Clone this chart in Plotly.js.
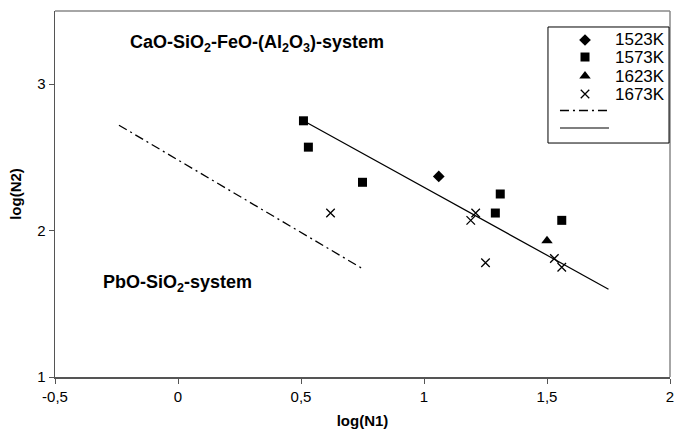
<!DOCTYPE html>
<html>
<head>
<meta charset="utf-8">
<script src="https://cdn.plot.ly/plotly-3.0.1.min.js"></script>
<style>html,body{margin:0;padding:0;background:#fff;}#chart{width:675px;height:435px;}</style>
</head>
<body>
<div id="chart"></div>
<script>
// Data
const x1523 = [1.06];
const y1523 = [2.37];
const x1573 = [0.51, 0.53, 0.75, 1.29, 1.31, 1.56];
const y1573 = [2.75, 2.57, 2.33, 2.12, 2.25, 2.07];
const x1623 = [1.50];
const y1623 = [1.93];
const x1673 = [0.62, 1.19, 1.21, 1.25, 1.53, 1.56];
const y1673 = [2.12, 2.07, 2.12, 1.78, 1.81, 1.75];
const xPbO = [-0.24, 0.75];
const yPbO = [2.72, 1.74];
const xFit = [0.51, 1.75];
const yFit = [2.75, 1.60];
const seriesNames = ['1523K', '1573K', '1623K', '1673K', '', ''];
const xTicks = [-0.5, 0, 0.5, 1, 1.5, 2];
const xTickText = ['-0,5', '0', '0,5', '1', '1,5', '2'];
const yTicks = [1, 2, 3];
const yTickText = ['1', '2', '3'];

const font = 'Liberation Sans, Arial, sans-serif';
const styles = [
  {mode: 'markers', marker: {symbol: 'diamond', size: 9, color: '#000'}},
  {mode: 'markers', marker: {symbol: 'square', size: 9, color: '#000'}},
  {mode: 'markers', marker: {symbol: 'triangle-up', size: 10, color: '#000'}},
  {mode: 'markers', marker: {symbol: 'x-thin-open', size: 8.5, color: '#000', line: {width: 1.3, color: '#000'}}},
  {mode: 'lines', line: {color: '#000', width: 1.3, dash: '9px,4px,2px,4px'}},
  {mode: 'lines', line: {color: '#000', width: 1.2}}
];
const dataX = [x1523, x1573, x1623, x1673, xPbO, xFit];
const dataY = [y1523, y1573, y1623, y1673, yPbO, yFit];

const traces = [];
dataX.forEach((xs, i) => {
  traces.push(Object.assign({type: 'scatter', x: xs, y: dataY[i], name: seriesNames[i],
    showlegend: false, cliponaxis: false}, styles[i]));
});

// Manual legend (drawn on an overlay axis spanning the plot area 0..1)
const legRows = [0.9208, 0.8743, 0.8224, 0.7732, 0.7281, 0.6803];
const legSymX = 0.8618, legTextX = 0.9073, legLineX = [0.8211, 0.9008];
const annotations = [
  {x: -0.203, y: 3.279, xref: 'x', yref: 'y', xanchor: 'left', yanchor: 'middle', showarrow: false,
   text: '<b>CaO-SiO<sub>2</sub>-FeO-(Al<sub>2</sub>O<sub>3</sub>)-system</b>', font: {family: font, size: 18}},
  {x: -0.313, y: 1.639, xref: 'x', yref: 'y', xanchor: 'left', yanchor: 'middle', showarrow: false,
   text: '<b>PbO-SiO<sub>2</sub>-system</b>', font: {family: font, size: 18}}
];
styles.forEach((s, i) => {
  const t = Object.assign({type: 'scatter', xaxis: 'x2', yaxis: 'y2', showlegend: false,
    hoverinfo: 'skip', cliponaxis: false}, s);
  if (s.mode === 'markers') { t.x = [legSymX]; t.y = [legRows[i]]; }
  else { t.x = legLineX; t.y = [legRows[i], legRows[i]]; }
  traces.push(t);
  if (seriesNames[i]) {
    annotations.push({x: legTextX, y: legRows[i], xref: 'paper', yref: 'paper', xanchor: 'left',
      yanchor: 'middle', showarrow: false, text: seriesNames[i], font: {family: font, size: 17}});
  }
});

const layout = {
  width: 675, height: 435,
  margin: {l: 55, r: 5, t: 11, b: 58},
  paper_bgcolor: '#fff', plot_bgcolor: '#fff',
  separators: ', ',
  font: {family: font, size: 15, color: '#000'},
  showlegend: false,
  xaxis: {range: [-0.5, 2], tickvals: xTicks, ticktext: xTickText, ticks: 'outside', ticklen: 5,
          tickcolor: '#555', showgrid: false, zeroline: false, showline: true,
          linecolor: '#555', linewidth: 1.5,
          tickfont: {family: font, size: 15},
          title: {text: '<b>log(N1)</b>', font: {family: font, size: 15}, standoff: 12}},
  yaxis: {range: [1, 3.5], tickvals: yTicks, ticktext: yTickText, ticks: 'outside', ticklen: 5,
          tickcolor: '#555', showgrid: false, zeroline: false, showline: true,
          linecolor: '#555', linewidth: 1.5,
          tickfont: {family: font, size: 15},
          title: {text: '<b>log(N2)</b>', font: {family: font, size: 15}, standoff: 12}},
  xaxis2: {overlaying: 'x', range: [0, 1], visible: false, fixedrange: true},
  yaxis2: {overlaying: 'y', range: [0, 1], visible: false, fixedrange: true},
  shapes: [
    {type: 'line', xref: 'paper', yref: 'paper', x0: 0, x1: 1, y0: 1, y1: 1, line: {color: '#888', width: 1.5}},
    {type: 'line', xref: 'paper', yref: 'paper', x0: 1, x1: 1, y0: 0, y1: 1, line: {color: '#888', width: 1.5}},
    {type: 'rect', xref: 'paper', yref: 'paper', x0: 0.8016, x1: 0.9984, y0: 0.6393, y1: 0.9563,
     line: {color: '#000', width: 1}, fillcolor: 'rgba(0,0,0,0)', layer: 'above'}
  ],
  annotations: annotations
};

Plotly.newPlot('chart', traces, layout, {displayModeBar: false, staticPlot: true});
</script>
</body>
</html>
